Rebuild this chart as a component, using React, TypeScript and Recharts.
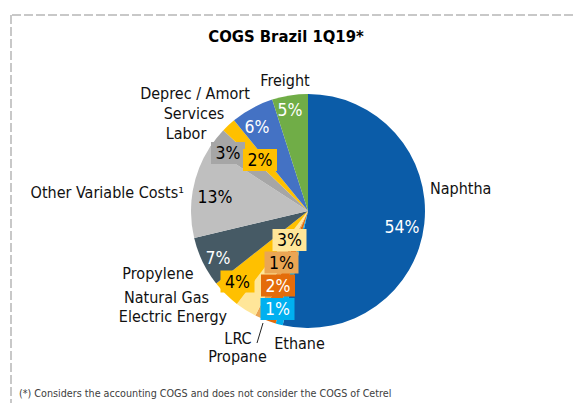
import React from 'react';
import { PieChart, Pie, Cell } from 'recharts';

const CATEGORIES = [
  'Naphtha',
  'Ethane',
  'Propane',
  'LRC',
  'Electric Energy',
  'Natural Gas',
  'Propylene',
  'Other Variable Costs¹',
  'Labor',
  'Services',
  'Deprec / Amort',
  'Freight',
];
const SHARES = [54, 1, 2, 1, 3, 4, 7, 13, 3, 2, 6, 5];
const TITLE = 'COGS Brazil 1Q19*';
const FOOTNOTE = '(*) Considers the accounting COGS and does not consider the COGS of Cetrel';

const COLORS = [
  '#0b5ca8', '#00b0f0', '#e46c0a', '#eaa654', '#ffe699', '#ffc000',
  '#465a65', '#bfbfbf', '#a6a6a6', '#ffc000', '#4472c4', '#70ad47',
];

// label layout relative to pie centre (style/position, not data)
const PCT_LAYOUT = [
  { dx: 94, dy: 16, color: '#fff', box: false },
  { dx: -30.5, dy: 98, color: '#fff', box: true },
  { dx: -30, dy: 74.5, color: '#fff', box: true },
  { dx: -26.5, dy: 51.5, color: '#000', box: true },
  { dx: -18.5, dy: 29, color: '#000', box: true },
  { dx: -70.5, dy: 70.5, color: '#000', box: true },
  { dx: -90, dy: 47, color: '#fff', box: false },
  { dx: -93, dy: -14, color: '#000', box: false },
  { dx: -80, dy: -58, color: '#000', box: true },
  { dx: -48, dy: -51, color: '#000', box: true },
  { dx: -51, dy: -84, color: '#fff', box: false },
  { dx: -18, dy: -101, color: '#fff', box: false },
];
const NAME_LAYOUT: { dx: number; dy: number; anchor: 'start' | 'middle' | 'end' }[] = [
  { dx: 122, dy: -23, anchor: 'start' },
  { dx: -8.5, dy: 132, anchor: 'middle' },
  { dx: -70.5, dy: 145, anchor: 'middle' },
  { dx: -70, dy: 127, anchor: 'middle' },
  { dx: -135, dy: 105.5, anchor: 'middle' },
  { dx: -141.5, dy: 86, anchor: 'middle' },
  { dx: -150, dy: 62, anchor: 'middle' },
  { dx: -124, dy: -19, anchor: 'end' },
  { dx: -122, dy: -78, anchor: 'middle' },
  { dx: -114, dy: -98, anchor: 'middle' },
  { dx: -113, dy: -118, anchor: 'middle' },
  { dx: -23, dy: -131, anchor: 'middle' },
];

const FONT = "'DejaVu Sans Condensed', 'DejaVu Sans', sans-serif";

const data = CATEGORIES.map((name, i) => ({ name, value: SHARES[i] }));

const renderLabel = (props: any) => {
  const { cx, cy, index } = props;
  const p = PCT_LAYOUT[index];
  const n = NAME_LAYOUT[index];
  const txt = `${SHARES[index]}%`;
  const bw = txt.length === 3 ? 46 : 34;
  const bh = 22;
  const px = cx + p.dx;
  const py = cy + p.dy;
  return (
    <g key={`lbl-${index}`}>
      {p.box && (
        <rect x={px - bw / 2} y={py - bh / 2} width={bw} height={bh} fill={COLORS[index]} />
      )}
      <text
        x={px}
        y={py}
        textAnchor="middle"
        dominantBaseline="central"
        fill={p.color}
        fontSize={17.5}
        fontFamily={FONT}
      >
        {txt}
      </text>
      <text
        x={cx + n.dx}
        y={cy + n.dy}
        textAnchor={n.anchor}
        dominantBaseline="central"
        fill="#111"
        fontSize={16}
        fontFamily={FONT}
      >
        {CATEGORIES[index]}
      </text>
      {CATEGORIES[index] === 'LRC' && (
        <line x1={cx - 45} y1={cy + 112} x2={cx - 51} y2={cy + 132} stroke="#222" strokeWidth={1} />
      )}
    </g>
  );
};

export default function App() {
  return (
    <div style={{ position: 'absolute', left: 0, top: 0, width: 576, height: 403, background: '#fff' }}>
      <svg width={576} height={403} style={{ position: 'absolute', left: 0, top: 0 }}>
        <line x1={12} y1={15} x2={576} y2={15} stroke="#c8c8c8" strokeWidth={2} strokeDasharray="9 3" />
        <line x1={11} y1={15} x2={11} y2={403} stroke="#c8c8c8" strokeWidth={2} strokeDasharray="9 3" />
        <text x={286} y={36} textAnchor="middle" dominantBaseline="central" fontWeight="bold" fontSize={16.5} fontFamily={FONT} fill="#000">
          {TITLE}
        </text>
        <text x={19} y={393} dominantBaseline="central" fontSize={10.7} fontFamily={FONT} fill="#404040">
          {FOOTNOTE}
        </text>
      </svg>
      <div style={{ position: 'absolute', left: 0, top: 0 }}>
        <PieChart width={576} height={403} margin={{ top: 0, right: 0, bottom: 0, left: 0 }}>
          <Pie
            data={data}
            dataKey="value"
            nameKey="name"
            cx={308}
            cy={211}
            outerRadius={117}
            innerRadius={0}
            startAngle={90}
            endAngle={-270}
            stroke="none"
            label={renderLabel}
            labelLine={false}
            isAnimationActive={false}
          >
            {data.map((d, i) => (
              <Cell key={d.name} fill={COLORS[i]} />
            ))}
          </Pie>
        </PieChart>
      </div>
    </div>
  );
}
